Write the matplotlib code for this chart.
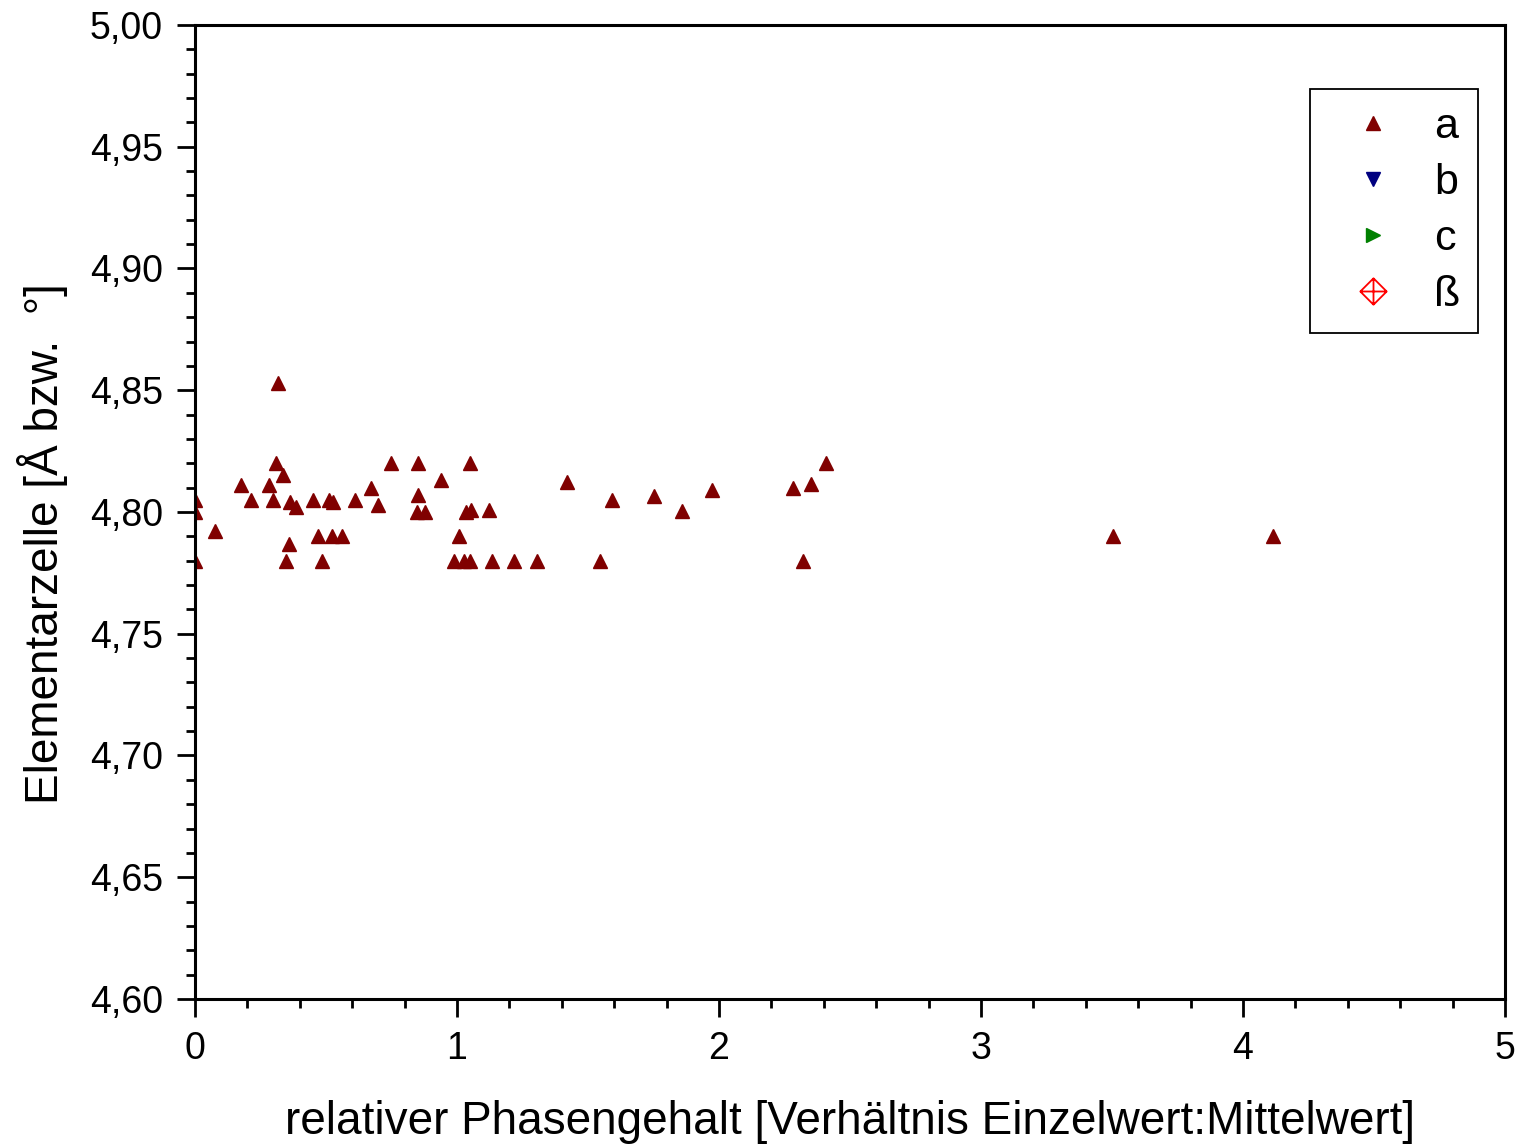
import numpy as np
import matplotlib
matplotlib.use("Agg")
import matplotlib.pyplot as plt
from matplotlib.path import Path
from matplotlib.ticker import MultipleLocator, FuncFormatter

plt.rcParams['font.family'] = ['Liberation Sans', 'DejaVu Sans']

# series a
x_a = [0.0, 0.0, 0.0, 0.076, 0.174, 0.213, 0.284, 0.299, 0.310, 0.316,
       0.336, 0.347, 0.359, 0.363, 0.385, 0.452, 0.471, 0.486, 0.511, 0.522,
       0.528, 0.562, 0.611, 0.672, 0.700, 0.747, 0.849, 0.850, 0.850, 0.878,
       0.938, 0.987, 1.009, 1.025, 1.036, 1.050, 1.050, 1.052, 1.122, 1.133,
       1.216, 1.307, 1.421, 1.547, 1.590, 1.751, 1.857, 1.975, 2.281, 2.321,
       2.352, 2.408, 3.504, 4.115]
y_a = [4.805, 4.800, 4.780, 4.792, 4.811, 4.805, 4.811, 4.805, 4.820, 4.853,
       4.815, 4.780, 4.787, 4.804, 4.802, 4.805, 4.790, 4.780, 4.805, 4.790,
       4.804, 4.790, 4.805, 4.810, 4.803, 4.820, 4.800, 4.807, 4.820, 4.800,
       4.813, 4.780, 4.790, 4.780, 4.800, 4.780, 4.820, 4.801, 4.801, 4.780,
       4.780, 4.780, 4.8125, 4.780, 4.805, 4.8066, 4.8005, 4.809, 4.8097, 4.780,
       4.8114, 4.820, 4.790, 4.790]
# series b, c, beta: nothing visible in the plot
x_b, y_b = [], []
x_c, y_c = [], []
x_beta, y_beta = [], []

labels = ['a', 'b', 'c', 'ß']

# diamond with a cross inside
verts = [(0, 1), (1, 0), (0, -1), (-1, 0), (0, 1),
         (-1, 0), (1, 0), (0, -1), (0, 1)]
codes = [Path.MOVETO, Path.LINETO, Path.LINETO, Path.LINETO, Path.CLOSEPOLY,
         Path.MOVETO, Path.LINETO, Path.MOVETO, Path.LINETO]
diamond_cross = Path(verts, codes)

fig = plt.figure(figsize=(15.24, 11.46), dpi=100)
ax = fig.add_axes([0.128, 0.1283, 0.8595, 0.8499])

ax.plot(x_a, y_a, ls='none', marker='^', ms=10, color='#800000', label=labels[0])
ax.plot(x_b, y_b, ls='none', marker='v', ms=10, color='#000080', label=labels[1])
ax.plot(x_c, y_c, ls='none', marker='>', ms=10, color='#008000', label=labels[2])
ax.plot(x_beta, y_beta, ls='none', marker=diamond_cross, ms=19, mfc='none',
        mec='#ff0000', mew=1.3, label=labels[3])

ax.set_xlim(0, 5)
ax.set_ylim(4.60, 5.00)
ax.xaxis.set_major_locator(MultipleLocator(1))
ax.xaxis.set_minor_locator(MultipleLocator(0.2))
ax.yaxis.set_major_locator(MultipleLocator(0.05))
ax.yaxis.set_minor_locator(MultipleLocator(0.01))
ax.yaxis.set_major_formatter(FuncFormatter(lambda v, p: f"{v:.2f}".replace('.', ',')))
ax.xaxis.set_major_formatter(FuncFormatter(lambda v, p: f"{v:g}"))

for s in ax.spines.values():
    s.set_linewidth(2.2)
ax.tick_params(which='both', direction='out', width=2, top=False, right=False)
ax.tick_params(which='major', length=13, labelsize=27, pad=10)
ax.tick_params(which='minor', length=6.5)

ax.set_xlabel('relativer Phasengehalt [Verhältnis Einzelwert:Mittelwert]', fontsize=33, labelpad=24)
ax.set_ylabel('Elementarzelle [Å bzw.  °]', fontsize=33, labelpad=14)
ax.yaxis.set_label_coords(-0.097, 0.468)

leg = ax.legend(loc='upper right', bbox_to_anchor=(0.9798, 0.9342), fontsize=31,
                frameon=True, fancybox=False, edgecolor='black', framealpha=1,
                handlelength=2.06, handletextpad=0.4, borderpad=0.42,
                labelspacing=0.37, borderaxespad=0, markerfirst=True)
leg.get_frame().set_linewidth(1.3)

fig.savefig('out.png', dpi=100)
